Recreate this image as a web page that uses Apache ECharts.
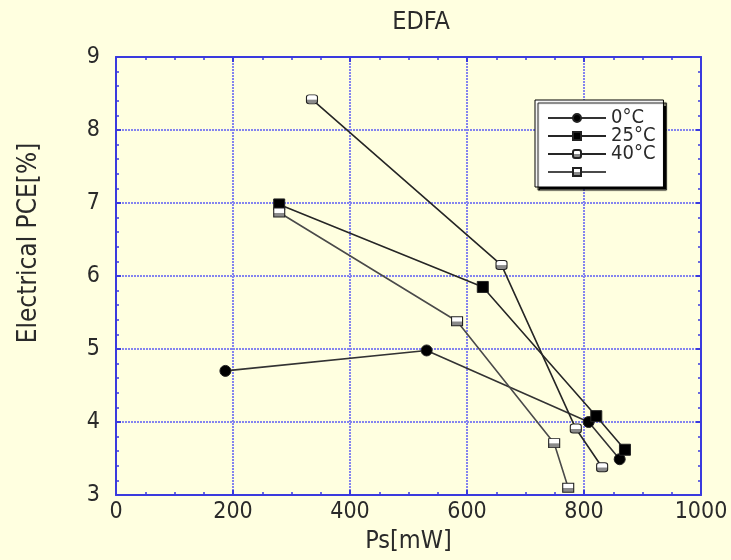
<!DOCTYPE html>
<html>
<head>
<meta charset="utf-8">
<style>
  html, body { margin: 0; padding: 0; background: #ffffe0; }
  #chart { width: 731px; height: 560px; }
</style>
<script src="https://cdn.jsdelivr.net/npm/echarts@6/dist/echarts.min.js"></script>
</head>
<body>
<div id="chart"></div>
<script>
// Electrical PCE of the EDFA versus signal power, one curve per temperature
const seriesNames = ['0°C', '25°C', '40°C', '40°C '];
const legendLabels = ['0°C', '25°C', '40°C', ' '];

const psA = [187, 531, 808, 861];
const pceA = [4.70, 4.98, 4.00, 3.49];

const psB = [279, 627, 821, 870];
const pceB = [6.98, 5.85, 4.08, 3.62];

const psC = [335, 659, 786, 831];
const pceC = [8.42, 6.15, 3.91, 3.38];

const psD = [279, 583, 749, 773];
const pceD = [6.87, 5.38, 3.71, 3.10];

const xTicks = [0, 200, 400, 600, 800, 1000];
const yTicks = [3, 4, 5, 6, 7, 8, 9];

const FONT = '"Liberation Sans Narrow", "DejaVu Sans Condensed", sans-serif';
const AXIS_BLUE = '#3a3ade';
const GRID_BLUE = '#8484ef';
const INK = '#2a2a2a';

const pairs = (xs, ys) => xs.map((x, i) => [x, ys[i]]);

// open markers: white on top, shaded below
const openFill = {
  type: 'linear', x: 0, y: 0, x2: 0, y2: 1,
  colorStops: [
    { offset: 0, color: '#ffffff' },
    { offset: 0.5, color: '#ffffff' },
    { offset: 0.55, color: '#8a8a8a' },
    { offset: 1, color: '#8a8a8a' }
  ]
};

const chart = echarts.init(document.getElementById('chart'), null, { renderer: 'canvas' });

function mkSeries(name, xs, ys, symbol, size, fill, lineColor) {
  return {
    name: name,
    type: 'line',
    data: pairs(xs, ys),
    symbol: symbol,
    symbolSize: size,
    showAllSymbol: true,
    lineStyle: { color: lineColor, width: 1.6 },
    itemStyle: { color: fill, borderColor: '#222', borderWidth: 1, opacity: 1 },
    emphasis: { disabled: true },
    animation: false,
    z: 3
  };
}

const minorX = { show: true, splitNumber: 4, length: 3, lineStyle: { color: AXIS_BLUE, width: 1.5 } };
const minorY = { show: true, splitNumber: 5, length: 3, lineStyle: { color: AXIS_BLUE, width: 1.5 } };
const frameLine = { show: true, onZero: false, lineStyle: { color: AXIS_BLUE, width: 2 } };
const frameTick = { show: true, inside: true, length: 5, lineStyle: { color: AXIS_BLUE, width: 2 } };
const gridLine = { show: true, lineStyle: { color: GRID_BLUE, width: 2, type: [2, 1] } };

chart.setOption({
  backgroundColor: '#ffffe0',
  animation: false,
  title: {
    text: 'EDFA',
    left: 421,
    top: 10,
    padding: 0,
    textAlign: 'center',
    textStyle: { fontFamily: FONT, fontSize: 25, fontWeight: 'normal', color: INK }
  },
  legend: {
    orient: 'vertical',
    left: 535,
    top: 100,
    padding: [8, 8, 5, 12],
    itemGap: -2,
    itemWidth: 58,
    itemHeight: 10,
    backgroundColor: '#ffffff',
    borderColor: '#000000',
    borderWidth: 1,
    shadowColor: '#000000',
    shadowBlur: 1,
    shadowOffsetX: 3,
    shadowOffsetY: 3,
    selectedMode: false,
    data: seriesNames,
    formatter: name => legendLabels[seriesNames.indexOf(name)],
    textStyle: { fontFamily: FONT, fontSize: 20, color: INK }
  },
  grid: { left: 116, right: 30, top: 57, bottom: 65, containLabel: false },
  xAxis: [{
    type: 'value',
    min: xTicks[0],
    max: xTicks[xTicks.length - 1],
    interval: 200,
    name: 'Ps[mW]',
    nameLocation: 'middle',
    nameGap: 34,
    nameTextStyle: { fontFamily: FONT, fontSize: 25, color: INK },
    axisLine: frameLine,
    axisTick: frameTick,
    minorTick: minorX,
    axisLabel: { fontFamily: FONT, fontSize: 23, color: INK, margin: 6, formatter: v => String(v) },
    splitLine: gridLine
  }, {
    type: 'value',
    position: 'top',
    min: xTicks[0],
    max: xTicks[xTicks.length - 1],
    interval: 200,
    axisLine: frameLine,
    axisTick: frameTick,
    minorTick: minorX,
    axisLabel: { show: false },
    splitLine: { show: false }
  }],
  yAxis: [{
    type: 'value',
    min: yTicks[0],
    max: yTicks[yTicks.length - 1],
    interval: 1,
    name: 'Electrical PCE[%]',
    nameLocation: 'middle',
    nameGap: 74,
    nameRotate: 90,
    nameTextStyle: { fontFamily: FONT, fontSize: 26, color: INK, padding: [0, 0, 0, 66] },
    axisLine: frameLine,
    axisTick: frameTick,
    minorTick: minorY,
    axisLabel: { fontFamily: FONT, fontSize: 23, color: INK, margin: 16 },
    splitLine: gridLine
  }, {
    type: 'value',
    position: 'right',
    min: yTicks[0],
    max: yTicks[yTicks.length - 1],
    interval: 1,
    axisLine: frameLine,
    axisTick: frameTick,
    minorTick: minorY,
    axisLabel: { show: false },
    splitLine: { show: false }
  }],
  series: [
    mkSeries(seriesNames[0], psA, pceA, 'circle', 11, '#000000', '#333333'),
    mkSeries(seriesNames[1], psB, pceB, 'rect', [11, 11], '#000000', '#262626'),
    mkSeries(seriesNames[2], psC, pceC, 'roundRect', [11, 9], openFill, '#262626'),
    mkSeries(seriesNames[3], psD, pceD, 'rect', [11, 9], openFill, '#4a4a4a')
  ]
});
</script>
</body>
</html>
